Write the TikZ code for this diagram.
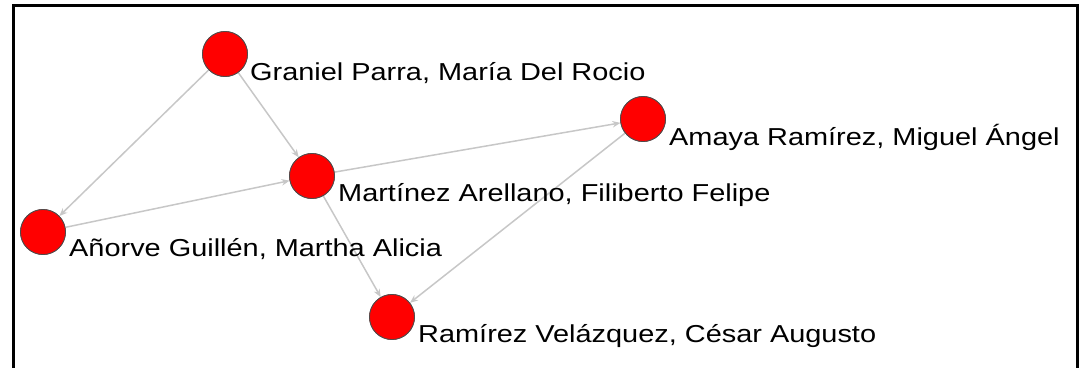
\documentclass[tikz,border=0pt]{standalone}
\usepackage{fontspec}
\setmainfont[FakeStretch=1.18]{Liberation Sans}
\usetikzlibrary{arrows.meta}
\begin{document}
\begin{tikzpicture}[x=1pt,y=-1pt,
  person/.style={circle,fill=red,draw=black!70,line width=0.8pt,minimum size=45pt,inner sep=0pt},
  lbl/.style={anchor=base west,inner sep=0pt,font=\fontsize{24.5}{28}\selectfont},
  link/.style={draw=black!22,line width=1.5pt,-{Stealth[length=8pt,width=6.5pt]},shorten >=0pt}]
\useasboundingbox (0,0) rectangle (1082,367);
\draw[line width=3pt] (13,368) -- (13,5) -- (1077,5) -- (1077,368);
\node[person] (g) at (225,54) {};
\node[person] (m) at (312,176) {};
\node[person] (a) at (643,119) {};
\node[person] (r) at (392,317) {};
\node[person] (n) at (43,232) {};
\draw[link] (g) -- (n);
\draw[link] (g) -- (m);
\draw[link] (n) -- (m);
\draw[link] (m) -- (a);
\draw[link] (m) -- (r);
\draw[link] (a) -- (r);
\node[person] at (225,54) {};
\node[person] at (312,176) {};
\node[person] at (643,119) {};
\node[person] at (392,317) {};
\node[person] at (43,232) {};
\node[lbl] (gl) at (250,80) {Graniel Parra, María Del Rocio};
\node[lbl] (ml) at (338,201) {Martínez Arellano, Filiberto Felipe};
\node[lbl] (al) at (669,145) {Amaya Ramírez, Miguel Ángel};
\node[lbl] (rl) at (418,342) {Ramírez Velázquez, César Augusto};
\node[lbl] (nl) at (69,256) {Añorve Guillén, Martha Alicia};
\end{tikzpicture}
\end{document}
